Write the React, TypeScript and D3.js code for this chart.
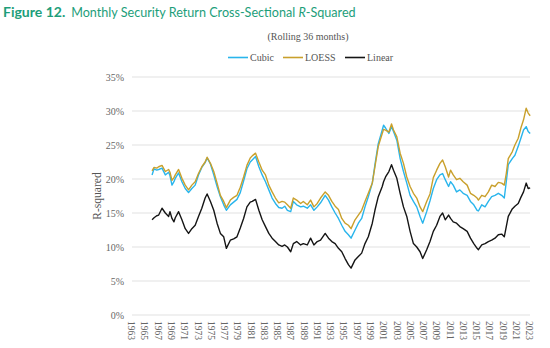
import React from "react";
import * as d3 from "d3";

const dates = [
  1966.1, 1966.4, 1966.8, 1967.1, 1967.6, 1968.1, 1968.6, 1968.8, 1969.1, 1969.4, 1969.6, 1970.1, 1970.6,
  1971.1, 1971.6, 1972.1, 1972.6, 1973.1, 1973.6, 1974.1, 1974.4, 1974.9, 1975.4, 1975.9, 1976.4, 1976.9,
  1977.3, 1977.9, 1978.4, 1978.9, 1979.4, 1979.9, 1980.4, 1980.9, 1981.2, 1981.7, 1982.2, 1982.7, 1983.2,
  1983.7, 1984.2, 1984.7, 1985.2, 1985.7, 1986.1, 1986.5, 1987.0, 1987.4, 1987.9, 1988.5, 1988.9, 1989.5,
  1990.0, 1990.5, 1991.0, 1991.5, 1992.2, 1992.7, 1993.2, 1993.7, 1994.2, 1994.7, 1995.2, 1995.7, 1996.1,
  1996.7, 1997.2, 1997.7, 1998.2, 1998.7, 1999.3, 1999.7, 2000.2, 2000.8, 2001.0, 2001.3, 2001.8, 2002.2,
  2002.5, 2003.0, 2003.5, 2004.0, 2004.5, 2005.0, 2005.5, 2006.0, 2006.5, 2006.9, 2007.5, 2008.0, 2008.5,
  2009.0, 2009.5, 2009.9, 2010.3, 2010.8, 2011.1, 2011.5, 2012.0, 2012.5, 2013.0, 2013.6, 2014.1, 2014.6,
  2015.1, 2015.3, 2015.8, 2016.3, 2016.8, 2017.3, 2017.8, 2018.3, 2018.8, 2019.2, 2019.5, 2019.8, 2020.4,
  2020.8, 2021.3, 2021.7, 2022.1, 2022.5, 2022.8, 2023.1,
];

const cubic = [
  20.6, 21.5, 21.3, 21.4, 21.6, 20.6, 21.0, 20.5, 19.1, 19.6, 20.1, 20.9, 19.6,
  18.6, 18.0, 18.6, 19.1, 20.6, 21.7, 22.4, 23.1, 22.2, 20.6, 18.9, 17.4, 16.2,
  15.4, 16.2, 16.6, 17.0, 18.0, 19.7, 21.5, 22.5, 22.8, 23.3, 21.8, 20.6, 19.6,
  18.4, 17.2, 16.4, 15.8, 15.7, 16.0, 15.4, 15.2, 16.7, 16.2, 15.9, 16.0, 15.7,
  16.2, 15.4, 15.9, 16.5, 17.6, 16.9, 15.9, 15.0, 14.2, 13.2, 12.3, 11.8, 11.3,
  12.5, 13.5, 14.2, 15.9, 17.4, 19.4, 22.1, 25.2, 27.2, 27.9, 27.5, 26.7, 27.7,
  27.0, 25.7, 23.0, 21.1, 19.4, 17.6, 16.7, 15.9, 14.5, 13.5, 15.2, 16.8, 18.6,
  19.9, 20.6, 20.8, 19.9, 18.9, 19.6, 19.1, 18.1, 18.4, 17.9, 17.6, 16.7, 16.2,
  15.4, 15.3, 16.2, 15.9, 16.7, 17.4, 17.6, 17.9, 17.6, 17.2, 19.6, 22.1, 23.0,
  23.5, 24.8, 26.0, 27.2, 27.7, 27.0, 26.7,
];

const loess = [
  21.2, 21.7, 21.6, 21.8, 22.0, 21.1, 21.4, 21.0, 19.8, 20.2, 20.6, 21.4, 20.1,
  19.1, 18.4, 19.1, 19.6, 20.8, 21.8, 22.5, 23.2, 22.3, 21.1, 19.4, 17.6, 16.7,
  15.8, 16.9, 17.3, 17.6, 18.8, 20.3, 22.0, 23.1, 23.4, 23.8, 22.5, 21.3, 20.6,
  19.1, 18.1, 17.2, 16.5, 16.7, 16.6, 16.2, 15.7, 17.2, 16.9, 16.4, 16.7, 16.2,
  16.9, 15.9, 16.4, 17.2, 18.1, 17.6, 16.7, 16.0, 15.5, 14.2, 13.5, 13.2, 12.7,
  14.0, 14.7, 15.4, 16.7, 17.9, 19.4, 21.8, 24.8, 26.7, 27.3, 27.2, 26.9, 28.1,
  27.2, 26.2, 23.8, 22.3, 20.3, 18.9, 17.9, 17.2, 15.9, 15.2, 16.7, 17.8, 20.2,
  21.3, 22.3, 22.8, 21.8, 20.3, 21.3, 20.6, 19.9, 20.1, 19.6, 19.1, 17.9, 17.6,
  17.2, 16.9, 17.6, 17.4, 18.1, 19.1, 18.9, 19.5, 19.4, 19.1, 20.8, 23.0, 24.0,
  25.0, 26.0, 27.5, 28.7, 30.4, 29.7, 29.3,
];

const linear = [
  14.0, 14.3, 14.6, 14.7, 15.7, 15.0, 14.5, 15.2, 14.2, 13.7, 14.3, 15.2, 14.0,
  12.7, 12.0, 12.7, 13.2, 14.5, 15.7, 17.2, 17.8, 16.7, 15.4, 13.5, 12.0, 11.5,
  9.8, 11.0, 11.2, 11.5, 12.8, 14.2, 15.9, 16.6, 16.7, 17.0, 15.4, 14.0, 13.0,
  12.0, 11.3, 10.8, 10.3, 10.1, 10.3, 10.0, 9.3, 10.5, 10.8, 10.3, 10.5, 10.3,
  11.3, 10.3, 10.8, 11.0, 12.0, 11.3, 10.8, 10.5, 9.8, 9.3, 8.3, 7.4, 6.9,
  8.1, 8.6, 9.1, 10.5, 11.5, 13.5, 15.4, 17.4, 18.9, 19.6, 20.3, 21.1, 22.1,
  21.3, 20.1, 17.9, 15.9, 14.5, 12.3, 10.5, 10.0, 9.3, 8.3, 9.6, 10.8, 12.3,
  13.2, 14.5, 15.0, 14.0, 14.7, 14.2, 13.7, 13.5, 13.0, 12.7, 12.3, 11.3, 10.5,
  9.8, 9.6, 10.3, 10.5, 10.8, 11.0, 11.3, 11.8, 11.9, 11.5, 13.0, 14.5, 15.6,
  16.0, 16.4, 17.3, 18.1, 19.4, 18.6, 18.7,
];

const yTicks = [0, 5, 10, 15, 20, 25, 30, 35];
const xTickYears = d3.range(1963, 2024, 2);

const seriesNames = ["Cubic", "LOESS", "Linear"];
const seriesColors = ["#29b5ec", "#c9a02c", "#151515"];
const seriesValues = [cubic, loess, linear];

export default function App() {
  const W = 550;
  const H = 348;
  const x = d3.scaleLinear().domain([1963, 2023]).range([131.5, 529.5]);
  const y = d3.scaleLinear().domain([0, 35]).range([315, 77]);
  const line = d3
    .line<[number, number]>()
    .x((d) => x(d[0]))
    .y((d) => y(d[1]));

  const serif = "'Liberation Serif', 'Times New Roman', serif";
  const legendX = [228, 283, 345];

  return (
    <svg
      width={W}
      height={H}
      style={{ position: "absolute", left: 0, top: 0, background: "#fff" }}
    >
      <text x={3} y={16.5} fontFamily="Lato, sans-serif" fill="#1d9e7a">
        <tspan fontSize={14} fontWeight="bold">Figure 12.</tspan>
        <tspan fontSize={12.6} dx={6}>Monthly Security Return Cross-Sectional </tspan>
        <tspan fontSize={12.6} fontStyle="italic">R</tspan>
        <tspan fontSize={12.6}>-Squared</tspan>
      </text>

      <text x={308} y={40} textAnchor="middle" fontFamily={serif} fontSize={10} fill="#555">
        (Rolling 36 months)
      </text>

      {seriesNames.map((name, i) => (
        <g key={name}>
          <line
            x1={legendX[i]}
            x2={legendX[i] + 20}
            y1={57.5}
            y2={57.5}
            stroke={seriesColors[i]}
            strokeWidth={1.6}
          />
          <text x={legendX[i] + 22} y={61} fontFamily={serif} fontSize={10} fill="#555">
            {name}
          </text>
        </g>
      ))}

      {yTicks.map((t) => (
        <g key={t}>
          <line x1={132} x2={530} y1={y(t)} y2={y(t)} stroke="#e2e2e2" strokeWidth={1.2} />
          <text
            x={124}
            y={y(t)}
            dy="0.35em"
            textAnchor="end"
            fontFamily={serif}
            fontSize={10}
            fill="#666"
          >
            {t}%
          </text>
        </g>
      ))}

      {xTickYears.map((yr) => (
        <text
          key={yr}
          transform={`translate(${x(yr)},321) rotate(90)`}
          dy="0.35em"
          fontFamily={serif}
          fontSize={9.5}
          fill="#666"
        >
          {yr}
        </text>
      ))}

      <text
        transform={`translate(97,196) rotate(-90)`}
        dy="0.35em"
        textAnchor="middle"
        fontFamily={serif}
        fontSize={11.5}
        fill="#555"
      >
        R-squared
      </text>

      {seriesValues.map((vals, i) => (
        <path
          key={seriesNames[i]}
          d={line(dates.map((d, j) => [d, vals[j]] as [number, number])) || ""}
          fill="none"
          stroke={seriesColors[i]}
          strokeWidth={1.4}
          strokeLinejoin="round"
        />
      ))}
    </svg>
  );
}
